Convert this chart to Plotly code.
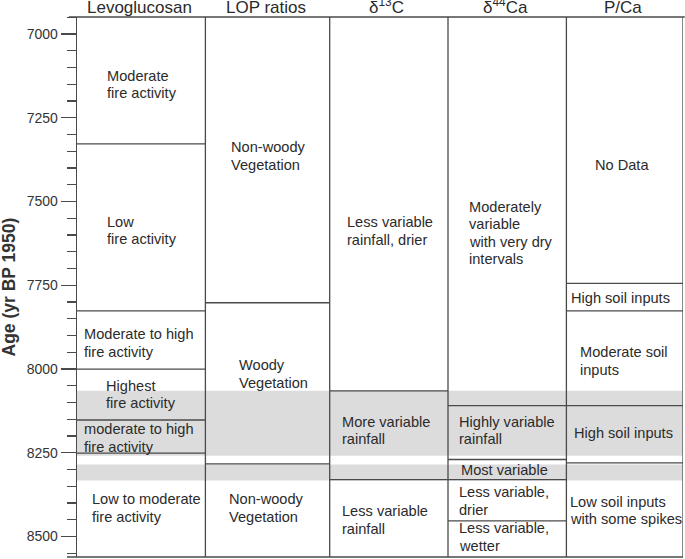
import plotly.graph_objects as go

# ---------------- data ----------------
headers = ["Levoglucosan", "LOP ratios", "δ<sup>13</sup>C", "δ<sup>44</sup>Ca", "P/Ca"]

age_top = 6949
age_bottom = 8561
major_ticks = [7000, 7250, 7500, 7750, 8000, 8250, 8500]

# interval boundaries (yr BP 1950) inside each column
levo_bounds = [7328, 7826, 8000, 8152, 8251]
lop_bounds = [7802, 8283]
d13c_bounds = [8065, 8330]
d44ca_bounds = [8109, 8270, 8330, 8453]
pca_bounds = [7744, 7826, 8109, 8280]

levo_labels = ["Moderate<br>fire activity", "Low<br>fire activity",
               "Moderate to high<br>fire activity", "Highest<br>fire activity",
               "moderate to high<br>fire activity", "Low to moderate<br>fire activity"]
lop_labels = ["Non-woody<br>Vegetation", "Woody<br>Vegetation", "Non-woody<br>Vegetation"]
d13c_labels = ["Less variable<br>rainfall, drier", "More variable<br>rainfall",
               "Less variable<br>rainfall"]
d44ca_labels = ["Moderately<br>variable<br>with very dry<br>intervals",
                "Highly variable<br>rainfall", "Most variable",
                "Less variable,<br>drier", "Less variable,<br>wetter"]
pca_labels = ["No Data", "High soil inputs", "Moderate soil<br>inputs",
              "High soil inputs", "Low soil inputs<br>with some spikes"]

# shaded intervals
band_starts = [8065, 8285]
band_ends = [8259, 8333]

# ---------------- layout / positions ----------------
col_edges = [0, 128.4, 252.7, 371, 489.4, 606]   # horizontal units = px of plot

levo_lx = [29.7, 30.4, 7, 28.7, 7, 15]
levo_ly = [7151, 7586, 7922, 8076, 8206, 8415]
lop_lx = [153.7, 161.7, 152]
lop_ly = [7364, 8015, 8415]
d13c_lx = [270.4, 265.4, 265.4]
d13c_ly = [7588, 8183, 8450]
d44ca_lx = [391.7, 381.7, 384.4, 381.7, 381.7]
d44ca_ly = [7594, 8183, 8301, 8394, 8501]
pca_lx = [518.4, 494.4, 503.4, 497, 492.7]
pca_ly = [7391, 7787, 7976, 8190, 8422]

LINE_STEP = 52.5   # line spacing in years (~17.6 px)

FONT = "Liberation Sans, Arial, Helvetica, sans-serif"
TXT = "#2b2b2b"
LINE = "#4a4a4a"
LW = 1.3
BAND = "#dcdcdc"

columns = [
    (levo_bounds, levo_labels, levo_lx, levo_ly),
    (lop_bounds, lop_labels, lop_lx, lop_ly),
    (d13c_bounds, d13c_labels, d13c_lx, d13c_ly),
    (d44ca_bounds, d44ca_labels, d44ca_lx, d44ca_ly),
    (pca_bounds, pca_labels, pca_lx, pca_ly),
]

fig = go.Figure()
fig.add_trace(go.Scatter(x=[0, 606], y=[age_top, age_bottom], mode="markers",
                         marker=dict(opacity=0), hoverinfo="skip", showlegend=False))

shapes = []
annotations = []

# shaded bands
for s, e in zip(band_starts, band_ends):
    shapes.append(dict(type="rect", xref="paper", yref="y", x0=0, x1=1, y0=s, y1=e,
                       fillcolor=BAND, line=dict(width=0), layer="below"))

# vertical column separators + right border
for xe in col_edges[1:]:
    shapes.append(dict(type="line", xref="x", yref="paper", x0=xe, x1=xe, y0=0, y1=1,
                       line=dict(color=LINE, width=LW)))

# top and bottom frame lines
shapes.append(dict(type="line", xref="paper", yref="paper", x0=-0.0135, x1=1.003, y0=1, y1=1,
                   line=dict(color=LINE, width=LW)))
shapes.append(dict(type="line", xref="paper", yref="paper", x0=-0.0165, x1=1.0, y0=0, y1=0,
                   line=dict(color=LINE, width=LW)))

for i, (bounds, labels, lx, ly) in enumerate(columns):
    x0, x1 = col_edges[i], col_edges[i + 1]
    for b in bounds:
        shapes.append(dict(type="line", xref="x", yref="y", x0=x0, x1=x1, y0=b, y1=b,
                           line=dict(color=LINE, width=LW)))
    for lab, xx, yy in zip(labels, lx, ly):
        lines = lab.split("<br>")
        n = len(lines)
        for k, ln in enumerate(lines):
            annotations.append(dict(text=ln, x=xx - 2, y=yy + (k - (n - 1) / 2) * LINE_STEP,
                                    xref="x", yref="y", xanchor="left", yanchor="middle",
                                    align="left", showarrow=False,
                                    font=dict(family=FONT, size=14.6, color=TXT)))
    # header
    annotations.append(dict(text=headers[i], x=(x0 + x1) / 2 - 2, y=1, xref="x", yref="paper",
                            xanchor="center", yanchor="bottom", yshift=-2.5, showarrow=False,
                            font=dict(family=FONT, size=17, color=TXT)))

# y-axis title
annotations.append(dict(text="<b>Age (yr BP 1950)</b>", x=0, y=0.5, xref="paper", yref="paper",
                        xanchor="center", yanchor="middle", xshift=-68.5, textangle=-90,
                        showarrow=False, font=dict(family=FONT, size=17.5, color="#333333")))

fig.update_layout(
    width=685, height=559,
    margin=dict(l=77, r=2, t=17, b=2),
    paper_bgcolor="white", plot_bgcolor="white",
    showlegend=False, hovermode=False,
    shapes=shapes, annotations=annotations,
    xaxis=dict(range=[0, 606], visible=False, fixedrange=True),
    yaxis=dict(range=[age_bottom, age_top], tickvals=major_ticks, fixedrange=True,
               ticks="outside", ticklen=15, tickwidth=LW, tickcolor=LINE,
               showline=True, linewidth=LW, linecolor=LINE, showgrid=False, zeroline=False,
               tickfont=dict(family=FONT, size=14, color="#333333"),
               minor=dict(dtick=50, tick0=7000, ticks="outside", ticklen=9,
                          tickwidth=LW, tickcolor=LINE, showgrid=False)),
)

fig.write_html("out.html", config={"displayModeBar": False, "staticPlot": True},
               post_script="document.body.style.margin='0';document.body.style.padding='0';")
